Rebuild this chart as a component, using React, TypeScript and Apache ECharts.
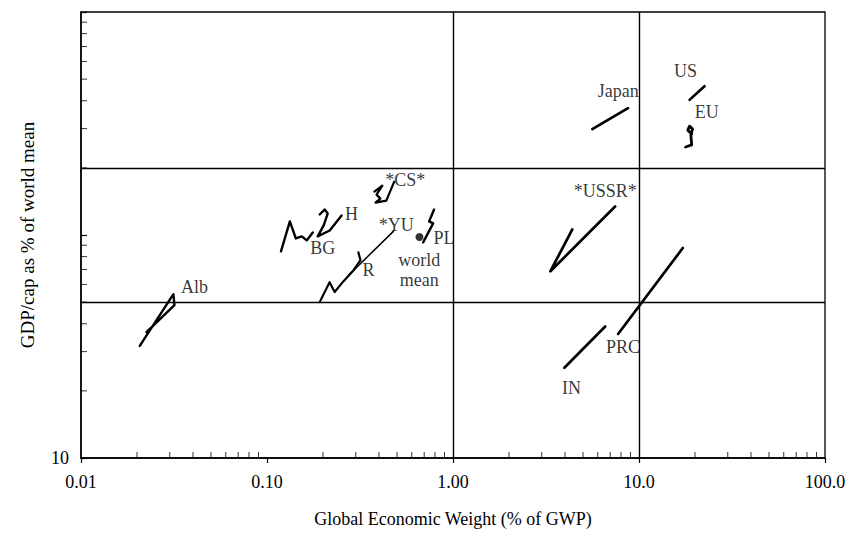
import React, { useEffect, useRef } from "react";
import * as echarts from "echarts";

// Axis tick labels
const xTickLabels = ["0.01", "0.10", "1.00", "10.0", "100.0"];
const yTickLabel = "10";
// Reference grid lines
const gridX = [1, 10];
const gridY = [50, 200];

// Trajectories: [share of GWP %, GDP/cap % of world mean]
const alb = [[0.0207, 31.8], [0.0314, 54.3], [0.0318, 48.5], [0.0225, 36.7]];
const bg = [[0.1189, 84.5], [0.1327, 115.0], [0.1429, 96.5], [0.1538, 98.6], [0.1637, 94.6], [0.1762, 102.7]];
const hu = [[0.192, 123.6], [0.2042, 130.1], [0.2119, 124.8], [0.2017, 110.4], [0.1874, 98.6], [0.2173, 104.8], [0.2518, 122.3]];
const ro = [[0.192, 50.0], [0.217, 61.4], [0.231, 55.5], [0.258, 62.1], [0.292, 69.5], [0.318, 77.1], [0.31, 83.6]];
const yu = [[0.275, 66.1], [0.478, 103.8]];
const cs = [[0.378, 156.5], [0.417, 166.5], [0.388, 151.7], [0.407, 145.6], [0.383, 139.7], [0.438, 142.6], [0.483, 173.4]];
const pl = [[0.791, 130.1], [0.744, 115.1], [0.782, 112.7], [0.691, 92.7]];
const worldMean = [[0.66, 98]];
const japan = [[5.61, 298.6], [8.73, 370.6]];
const us = [[18.7, 403.6], [22.5, 464.6]];
const eu = [[17.8, 248.1], [19.2, 253.6], [19.0, 280.8], [19.4, 298.6], [18.7, 307.8], [18.3, 295.3], [19.2, 284.0]];
const ussr = [[7.44, 134.2], [3.34, 68.8], [4.38, 105.9]];
const prc = [[17.2, 87.4], [7.72, 36.0]];
const ind = [[6.58, 38.9], [3.97, 25.4]];

// Text labels: [text, x, y]
const labels: [string, number, number][] = [
  ["Alb", 0.0407, 58.3],
  ["BG", 0.1994, 87.1],
  ["H", 0.285, 124.7],
  ["R", 0.351, 69.5],
  ["*YU", 0.496, 111.4],
  ["*CS*", 0.554, 177],
  ["PL", 0.895, 96.6],
  ["world\nmean", 0.658, 69.5],
  ["Japan", 7.73, 441],
  ["US", 17.8, 542],
  ["EU", 23.1, 355],
  ["*USSR*", 6.58, 157.8],
  ["PRC", 8.21, 31.5],
  ["IN", 4.33, 20.5],
];

const FONT = "'Liberation Serif', 'DejaVu Serif', serif";
const INK = "#000";

export default function App() {
  const ref = useRef<HTMLDivElement>(null);
  useEffect(() => {
    if (!ref.current) return;
    const chart = echarts.init(ref.current, null, { renderer: "svg" });

    const traj = [
      { name: "Alb", data: alb, w: 2.4 },
      { name: "BG", data: bg, w: 2.4 },
      { name: "H", data: hu, w: 2.4 },
      { name: "R", data: ro, w: 2.2 },
      { name: "YU", data: yu, w: 1.5 },
      { name: "CS", data: cs, w: 2.2 },
      { name: "PL", data: pl, w: 2.4 },
      { name: "Japan", data: japan, w: 2.7 },
      { name: "US", data: us, w: 2.7 },
      { name: "EU", data: eu, w: 2.8 },
      { name: "USSR", data: ussr, w: 2.7 },
      { name: "PRC", data: prc, w: 2.7 },
      { name: "IN", data: ind, w: 2.7 },
    ];

    // minor ticks at 2..9 of each decade (axis decoration)
    const xMinor: number[][] = [];
    [0.01, 0.1, 1, 10].forEach((d) => {
      for (let k = 2; k <= 9; k++) xMinor.push([d * k, 10]);
    });
    const yMinor: number[][] = [];
    [10, 100].forEach((d) => {
      for (let k = 2; k <= 9; k++) yMinor.push([0.01, d * k]);
    });

    const series: any[] = traj.map((t) => ({
      type: "line",
      name: t.name,
      data: t.data,
      symbol: "none",
      lineStyle: { color: INK, width: t.w, join: "round", cap: "round" },
      silent: true,
    }));

    series.push({
      type: "line",
      name: "grid",
      data: [],
      markLine: {
        silent: true,
        symbol: "none",
        label: { show: false },
        lineStyle: { color: INK, width: 1.4, type: "solid" },
        data: [
          ...gridX.map((v) => ({ xAxis: v })),
          ...gridY.map((v) => ({ yAxis: v })),
        ],
      },
    });

    series.push({
      type: "scatter",
      name: "world mean",
      data: worldMean,
      symbol: "circle",
      symbolSize: 8,
      itemStyle: { color: INK },
      silent: true,
    });

    series.push({
      type: "scatter",
      name: "xminor",
      data: xMinor,
      symbol: "rect",
      symbolSize: [1, 6],
      symbolOffset: [0, -3],
      itemStyle: { color: INK },
      clip: false,
      silent: true,
    });
    series.push({
      type: "scatter",
      name: "yminor",
      data: yMinor,
      symbol: "rect",
      symbolSize: [6, 1],
      symbolOffset: [3, 0],
      itemStyle: { color: INK },
      clip: false,
      silent: true,
    });

    series.push({
      type: "scatter",
      name: "labels",
      data: labels.map((l) => ({ name: l[0], value: [l[1], l[2]] })),
      symbolSize: 0,
      silent: true,
      label: {
        show: true,
        position: "inside",
        formatter: (p: any) => p.name,
        color: INK,
        textBorderWidth: 0,
        fontFamily: FONT,
        fontSize: 18,
        lineHeight: 20,
        align: "center",
      },
    });

    chart.setOption({
      animation: false,
      backgroundColor: "#fff",
      grid: {
        left: 81,
        right: 33,
        top: 12,
        bottom: 82,
        show: true,
        borderColor: INK,
        borderWidth: 1.3,
        backgroundColor: "transparent",
      },
      xAxis: {
        type: "log",
        logBase: 10,
        min: 0.01,
        max: 100,
        name: "Global Economic Weight (% of GWP)",
        nameLocation: "middle",
        nameGap: 52,
        nameTextStyle: { fontFamily: FONT, fontSize: 18, color: INK },
        axisLine: { lineStyle: { color: INK, width: 1.5 } },
        axisTick: { show: true, inside: false, length: 5, lineStyle: { color: INK, width: 1.2 } },
        splitLine: { show: false },
        minorTick: { show: false },
        axisLabel: {
          fontFamily: FONT,
          fontSize: 18,
          color: INK,
          margin: 15,
          formatter: (v: number) => xTickLabels[Math.round(Math.log10(v)) + 2] ?? "",
        },
      },
      yAxis: {
        type: "log",
        logBase: 10,
        min: 10,
        max: 1000,
        name: "GDP/cap as % of world mean",
        nameLocation: "middle",
        nameGap: 44,
        nameTextStyle: { fontFamily: FONT, fontSize: 19, color: INK },
        axisLine: { lineStyle: { color: INK, width: 1.5 } },
        axisTick: { show: true, inside: true, length: 6, lineStyle: { color: INK, width: 1.2 } },
        splitLine: { show: false },
        axisLabel: {
          fontFamily: FONT,
          fontSize: 18,
          color: INK,
          margin: 12,
          formatter: (v: number) => (Math.abs(v - 10) < 1e-6 ? yTickLabel : ""),
        },
      },
      series,
    });

    return () => chart.dispose();
  }, []);

  return <div ref={ref} style={{ width: 858, height: 540, position: "absolute", left: 0, top: 0 }} />;
}
